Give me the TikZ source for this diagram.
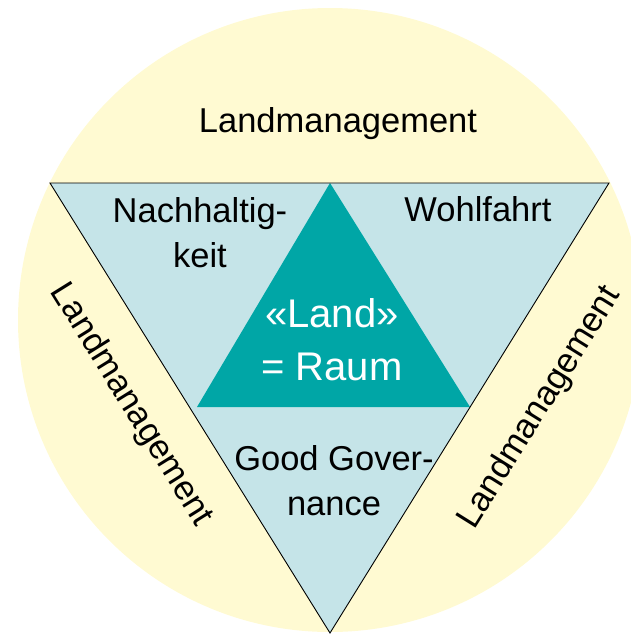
\documentclass[tikz,border=0pt]{standalone}
\usepackage{fontspec}
\setmainfont{Liberation Sans}
\definecolor{ringyellow}{RGB}{255,250,210}
\definecolor{paleblue}{RGB}{197,228,232}
\definecolor{teal}{RGB}{0,166,166}
\begin{document}
\begin{tikzpicture}[x=1pt,y=-1pt,
  lbl/.style={font=\fontsize{34.5}{45}\selectfont, align=center, inner sep=0pt, anchor=base},
  biglbl/.style={font=\fontsize{40}{53}\selectfont, align=center, inner sep=0pt, anchor=base, text=white}]
\useasboundingbox (0,0) rectangle (631,635);

% yellow disc, cut off by the page edge
\begin{scope}
  \clip (0,0) rectangle (631,635);
  \fill[ringyellow] (330,320) circle[radius=312];
\end{scope}

% outer (inverted) triangle
\coordinate (tl) at (50,183);
\coordinate (tr) at (609,183);
\coordinate (bt) at (330,633);
\fill[paleblue] (tl) -- (tr) -- (bt) -- cycle;

% inner triangle
\coordinate (ia) at (330,183);
\coordinate (il) at (197,407);
\coordinate (ir) at (470,407);
\fill[teal] (ia) -- (ir) -- (il) -- cycle;

\draw[black, line width=0.9pt, line join=miter] (tl) -- (tr) -- (bt) -- cycle;

% labels
\node[lbl] (top) at (338,132) {Landmanagement};
\node[lbl] (nach) at (200,267) {Nachhaltig-\\keit};
\node[lbl] (wohl) at (478,221) {Wohlfahrt};
\node[biglbl] (land) at (332,380) {«Land»\\= Raum};
\node[lbl] (gov) at (334,515) {Good Gover-\\nance};
\node[lbl, anchor=center, rotate=-58.1] (leftlm) at (131,405) {Landmanagement};
\node[lbl, anchor=center, rotate=58.1] (rightlm) at (540,408) {Landmanagement};
\end{tikzpicture}
\end{document}
